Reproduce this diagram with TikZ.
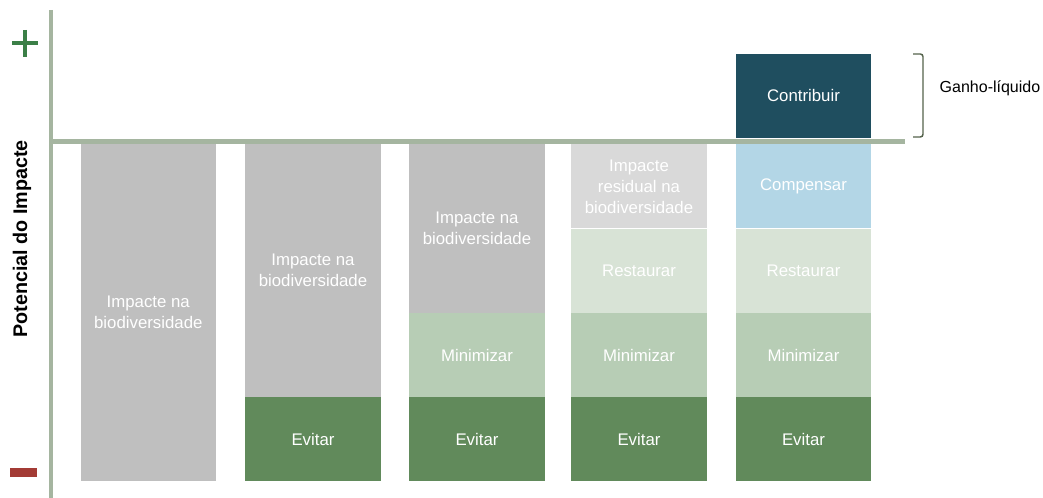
\documentclass[tikz,border=0pt]{standalone}
\usepackage{fontspec}
\setmainfont{Liberation Sans}
\usepackage{xcolor}
\definecolor{impgray}{HTML}{BFBFBF}
\definecolor{resgray}{HTML}{D9D9D9}
\definecolor{restgreen}{HTML}{D8E3D6}
\definecolor{mingreen}{HTML}{B7CDB5}
\definecolor{evitgreen}{HTML}{618A5B}
\definecolor{compblue}{HTML}{B3D6E6}
\definecolor{contrteal}{HTML}{1F4E5F}
\definecolor{axisgreen}{HTML}{A5B5A0}
\definecolor{plusgreen}{HTML}{3B7F47}
\definecolor{minusred}{HTML}{A33B35}
\definecolor{bracegray}{HTML}{55634C}

\tikzset{
  seg/.style={minimum width=101.6pt, minimum height=63pt, inner sep=0pt,
    text=white, align=center, font=\fontsize{12.6}{15.8}\selectfont},
  axisline/.style={axisgreen, line width=3.6pt},
}

\begin{document}
\begin{tikzpicture}[x=0.75pt,y=-0.75pt]
  \useasboundingbox (0,0) rectangle (1043,498);
  % coluna 1
  \node[seg, fill=impgray, minimum height=252.75pt] (imp1) at (148.3,312.5) {Impacte na\\biodiversidade};
  % coluna 2
  \node[seg, fill=impgray, minimum height=189.75pt] (imp2) at (313,270.5) {Impacte na\\biodiversidade};
  \node[seg, fill=evitgreen] (evit2) at (313,439) {Evitar};
  % coluna 3
  \node[seg, fill=impgray, minimum height=126.75pt] (imp3) at (477,228.5) {Impacte na\\biodiversidade};
  \node[seg, fill=mingreen] (min3) at (477,355) {Minimizar};
  \node[seg, fill=evitgreen] (evit3) at (477,439) {Evitar};
  % coluna 4
  \node[seg, fill=resgray] (res4) at (639,186.5) {Impacte\\residual na\\biodiversidade};
  \node[seg, fill=restgreen] (rest4) at (639,271) {Restaurar};
  \node[seg, fill=mingreen] (min4) at (639,355) {Minimizar};
  \node[seg, fill=evitgreen] (evit4) at (639,439) {Evitar};
  % coluna 5
  \node[seg, fill=contrteal] (contr5) at (803.5,96) {Contribuir};
  \node[seg, fill=compblue] (comp5) at (803.5,186.5) {Compensar};
  \node[seg, fill=restgreen] (rest5) at (803.5,271) {Restaurar};
  \node[seg, fill=mingreen] (min5) at (803.5,355) {Minimizar};
  \node[seg, fill=evitgreen] (evit5) at (803.5,439) {Evitar};
  % eixos
  \coordinate (ytop) at (51,10);
  \coordinate (ybot) at (51,498);
  \coordinate (xzero) at (51,141.5);
  \coordinate (xend) at (905,141.5);
  \draw[axisline] (ytop) -- (ybot);
  \draw[axisline] (xzero) -- (xend);
  \node[rotate=90, font=\fontsize{14.8}{17}\selectfont\bfseries] (potencial) at (22,239) {Potencial do Impacte};
  % sinais
  \draw[plusgreen, line width=3pt] (12,43.5) -- (38,43.5);
  \draw[plusgreen, line width=3pt] (25,30) -- (25,57);
  \fill[minusred] (10,468) rectangle (36.7,477);
  % chaveta
  \coordinate (btop) at (913,54);
  \coordinate (bbot) at (913,137);
  \draw[bracegray, line width=1.1pt, rounded corners=2pt] (btop) -- (923,54) -- (923,137) -- (bbot);
  \node[font=\fontsize{12}{14}\selectfont, anchor=west] (ganho) at (935,88) {Ganho-líquido};
\end{tikzpicture}
\end{document}
